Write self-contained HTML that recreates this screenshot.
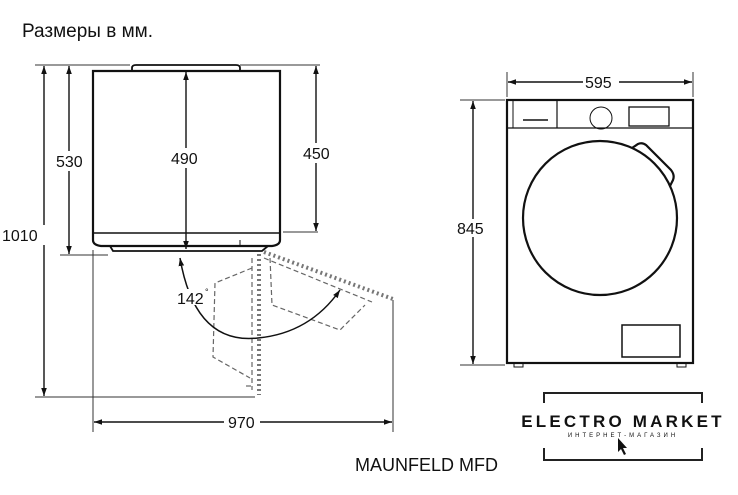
<!DOCTYPE html>
<html><head><meta charset="utf-8"><style>
html,body{margin:0;padding:0;background:#fff;}
svg{display:block;}
text{font-family:"Liberation Sans",Arial,sans-serif;fill:#111;}
</style></head><body>
<svg width="738" height="495" viewBox="0 0 738 495" xmlns="http://www.w3.org/2000/svg">
<defs>
<marker id="a" viewBox="0 0 10 10" refX="10" refY="5" markerWidth="8" markerHeight="8" orient="auto-start-reverse" markerUnits="userSpaceOnUse"><path d="M0,1.5 L10,5 L0,8.5z" fill="#111"/></marker>
<clipPath id="c"><rect x="0" y="440" width="506" height="40"/></clipPath>
</defs>
<text x="22" y="37" font-size="19">Размеры в мм.</text>

<!-- left side view -->
<g stroke="#111" fill="none">
<path d="M93,71 H280 V240 Q280,245 272,246 H101 Q93,245 93,240 Z" stroke-width="2.2"/>
<path d="M132,71 V68 Q132,65 136,65 H236 Q240,65 240,68 V71" stroke-width="1.8"/>
<line x1="94" y1="233" x2="279" y2="233" stroke-width="1.4"/>
<path d="M110,246 L113,251 H262 L268,246" stroke-width="1.8"/>
<line x1="240" y1="240" x2="240" y2="246" stroke-width="1"/>
</g>
<g stroke="#333" stroke-width="1" fill="none">
<line x1="35" y1="65" x2="130" y2="65"/>
<line x1="240" y1="65" x2="320" y2="65"/>
<line x1="35" y1="397" x2="255" y2="397"/>
<line x1="60" y1="255" x2="108" y2="255"/>
<line x1="283" y1="232" x2="318" y2="232"/>
<line x1="93" y1="250" x2="93" y2="432"/>
<line x1="393" y1="300" x2="393" y2="432"/>
</g>
<g stroke="#111" stroke-width="1.4" marker-start="url(#a)" marker-end="url(#a)">
<line x1="44" y1="66" x2="44" y2="396"/>
<line x1="69" y1="66" x2="69" y2="254"/>
<line x1="186" y1="72" x2="186" y2="249"/>
<line x1="316" y1="66" x2="316" y2="231"/>
<line x1="94" y1="422" x2="392" y2="422"/>
</g>
<rect x="170" y="148" width="34" height="20" fill="#fff"/>
<rect x="1" y="225" width="64" height="20" fill="#fff"/>
<rect x="52" y="151" width="34" height="20" fill="#fff"/>
<rect x="300" y="143" width="36" height="20" fill="#fff"/>
<rect x="224" y="412" width="36" height="20" fill="#fff"/>
<text x="171" y="164" font-size="16">490</text>
<text x="2" y="241" font-size="16">1010</text>
<text x="56" y="167" font-size="16">530</text>
<text x="303" y="159" font-size="16">450</text>
<text x="228" y="428" font-size="16">970</text>

<!-- door dashed -->
<g stroke="#666" stroke-width="1.2" fill="none" stroke-dasharray="5,3">
<line x1="252" y1="258" x2="252" y2="390"/>
<path d="M252,268 L215,283 L213,357 L250,378"/>
<path d="M270,258 L272,305 L340,330 L365,305"/>
<line x1="264" y1="258" x2="372" y2="302"/>
<path d="M246,386 H252"/>
</g>
<g stroke="#777" stroke-width="4" fill="none" stroke-dasharray="2,3">
<line x1="259" y1="254" x2="259" y2="395"/>
<line x1="264" y1="252" x2="393" y2="299"/>
</g>
<path d="M180,258 Q195,345 258,338 Q310,333 340,290" stroke="#111" stroke-width="1.5" fill="none" marker-start="url(#a)" marker-end="url(#a)"/>
<rect x="175" y="289" width="36" height="16" fill="#fff"/>
<text x="177" y="304" font-size="16">142</text>
<text x="205" y="295" font-size="9">°</text>

<!-- front view -->
<g stroke="#111" fill="none">
<rect x="507" y="100" width="186" height="263" stroke-width="2.2"/>
<line x1="507" y1="128" x2="693" y2="128" stroke-width="1.3"/>
<line x1="513" y1="100" x2="513" y2="128" stroke-width="1"/>
<line x1="557" y1="100" x2="557" y2="128" stroke-width="1.2"/>
<line x1="523" y1="120" x2="548" y2="120" stroke-width="1.5"/>
<circle cx="601" cy="118" r="11" stroke-width="1"/>
<rect x="629" y="107" width="40" height="19" stroke-width="1.3"/>
<circle cx="600" cy="218" r="77" stroke-width="2.2"/>
<path d="M632,148 L638,144 Q642,142 646,145 L671,170 Q675,175 673,180 L670,186" stroke-width="2.2"/>
<rect x="622" y="325" width="58" height="32" stroke-width="1.5"/>
<rect x="514" y="363" width="9" height="4" stroke-width="1"/>
<rect x="677" y="363" width="9" height="4" stroke-width="1"/>
</g>
<g stroke="#333" stroke-width="1">
<line x1="507" y1="72" x2="507" y2="97"/>
<line x1="693" y1="72" x2="693" y2="97"/>
<line x1="460" y1="100" x2="505" y2="100"/>
<line x1="460" y1="365" x2="505" y2="365"/>
</g>
<g stroke="#111" stroke-width="1.4" marker-start="url(#a)" marker-end="url(#a)">
<line x1="508" y1="82" x2="692" y2="82"/>
<line x1="473" y1="101" x2="473" y2="364"/>
</g>
<rect x="583" y="73" width="36" height="18" fill="#fff"/>
<rect x="455" y="219" width="34" height="18" fill="#fff"/>
<text x="585" y="88" font-size="16">595</text>
<text x="457" y="234" font-size="16">845</text>

<text x="355" y="471" font-size="18" clip-path="url(#c)">MAUNFELD MFD</text>

<!-- logo -->
<g stroke="#222" stroke-width="2" fill="none">
<path d="M544,403 V393 H702 V403"/>
<path d="M544,448 V460 H702 V448"/>
</g>
<text x="623" y="427" font-size="17" text-anchor="middle" letter-spacing="3.2" style="font-weight:bold">ELECTRO MARKET</text>
<text x="623" y="437" font-size="6" text-anchor="middle" letter-spacing="3">ИНТЕРНЕТ-МАГАЗИН</text>
<path d="M618,438 L618,452 L621,449 L624,455 L626,454 L623,448 L627,448 Z" fill="#111"/>
</svg>
</body></html>
